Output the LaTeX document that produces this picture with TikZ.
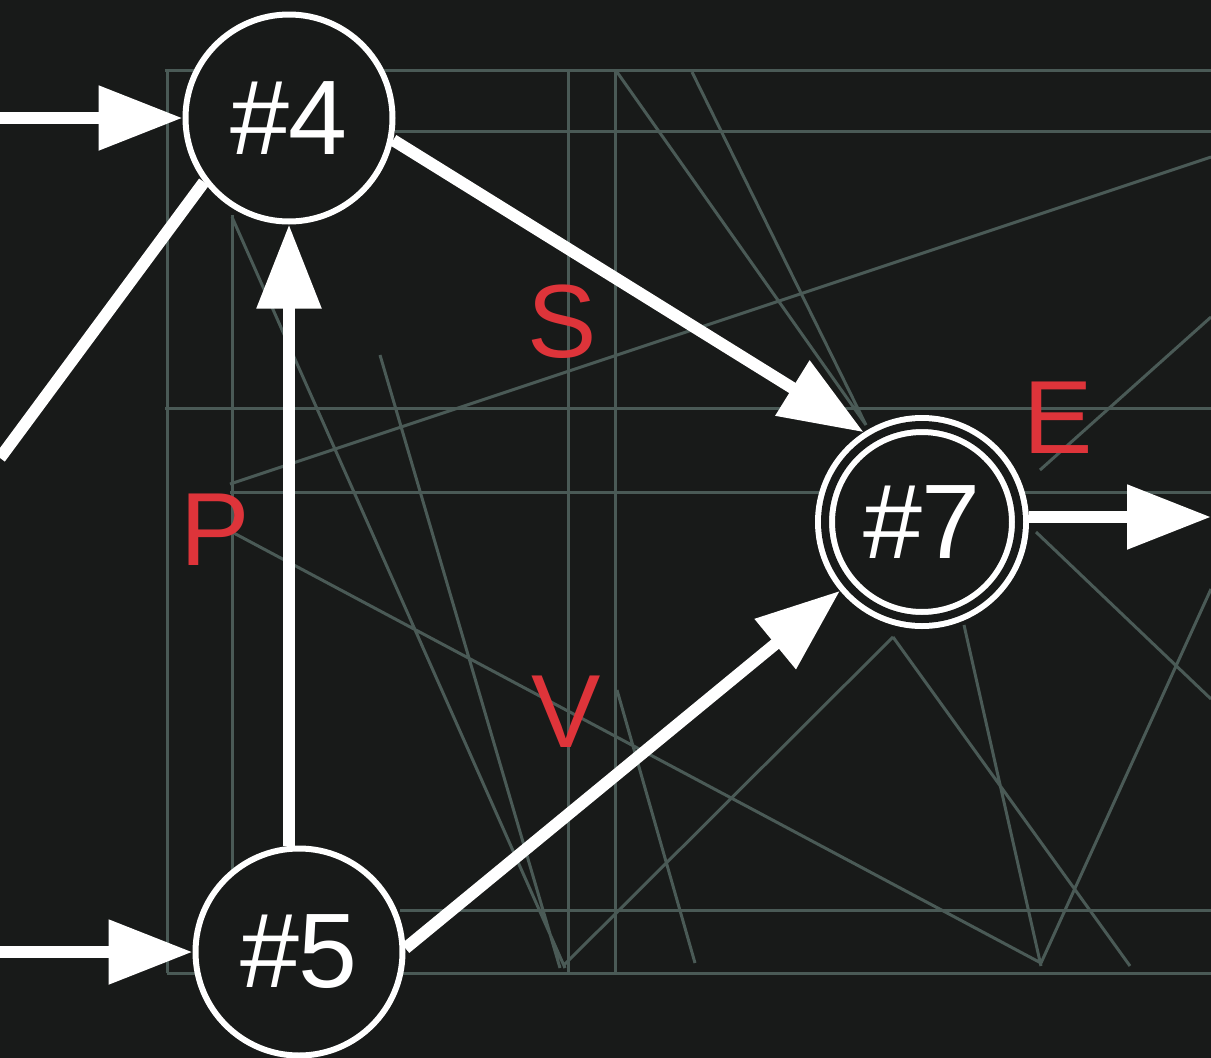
\documentclass[tikz,border=0pt]{standalone}
\usepackage{fontspec}
\setmainfont{Liberation Sans}
\usetikzlibrary{arrows.meta}
\definecolor{board}{RGB}{24,26,25}
\definecolor{chalk}{RGB}{74,90,86}
\definecolor{labelred}{RGB}{222,52,58}
\tikzset{
  state/.style={circle,draw=white,fill=board,line width=6pt,minimum size=207pt,inner sep=0pt,
    text=white,font=\fontsize{106}{106}\selectfont},
  accept/.style={state,double=board,double distance=8pt,minimum size=194pt,outer sep=10pt},
  plain/.style={draw=white,line width=12pt},
  flow/.style={plain,-{Triangle[length=84pt,width=62pt]}},
  trace/.style={draw=chalk,line width=3pt},
  lbl/.style={text=labelred,font=\fontsize{104}{104}\selectfont,inner sep=0pt}
}
\begin{document}
\begin{tikzpicture}[x=1pt,y=-1pt]
    \useasboundingbox[fill=board] (0,0) rectangle (1211,1058);
    % faint lines on the board
    \foreach \y/\a in {70/165,131/395,408/165,492/230,910/400,973/167}
        \draw[trace] (\a,\y) -- (1211,\y);
    \foreach \x/\a in {167/70,232/215,568/70,615/70}
        \draw[trace] (\x,\a) -- (\x,973);
    \draw[trace] (617,72) -- (866,425) (692,72) -- (866,425)
        (230,484) -- (1211,157) (1211,317) -- (1040,470)
        (232,217) -- (565,968) (380,355) -- (560,968)
        (230,531) -- (1041,963) (563,966) -- (893,637)
        (893,637) -- (1130,966) (964,625) -- (1041,966)
        (1041,963) -- (1211,589) (1036,532) -- (1211,699)
        (617,690) -- (695,963);
    % states
    \node[state] (n4) at (289,118) {\#4};
    \node[state] (n5) at (299,952) {\#5};
    \node[accept] (n7) at (922,522) {\#7};
    \coordinate (in4) at (0,118);
    \coordinate (in5) at (0,952);
    \coordinate (back) at (0,458);
    \coordinate (out) at (1211,517);
    % transitions
    \draw[flow] (in4) -- (n4);
    \draw[flow] (in5) -- (n5);
    \draw[plain] (back) -- (n4.217);
    \draw[flow] (n4.south |- n5.north) -- (n4.south);
    \draw[flow] (n4.348) -- (n7.123);
    \draw[flow] (n5.2) -- (n7.220);
    \draw[flow] (n7.east |- out) -- (out);
    % labels
    \node[lbl] (s) at (562,322) {S};
    \node[lbl] (v) at (566,712) {V};
    \node[lbl] (p) at (215,530) {P};
    \node[lbl] (e) at (1058,418) {E};
\end{tikzpicture}
\end{document}
